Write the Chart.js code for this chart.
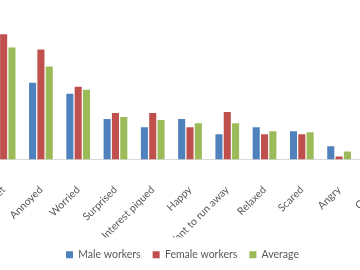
<!DOCTYPE html>
<html>
<head>
<meta charset="utf-8">
<script src="https://cdn.jsdelivr.net/npm/chart.js@4.4.1/dist/chart.umd.min.js"></script>
<style>
    html, body { margin: 0; padding: 0; background: #ffffff; }
    .wrap { position: relative; width: 360px; height: 270px; overflow: hidden; }
    /* il grafico originale e' tagliato a sinistra e a destra */
    .wrap .box { position: absolute; left: -30px; top: 0; width: 425px; height: 270px; }
</style>
</head>
<body>
<div class="wrap">
    <div class="box"><canvas id="chart"></canvas></div>
</div>
<script>
// Dati
const categories = ['Upset', 'Annoyed', 'Worried', 'Surprised', 'Interest piqued', 'Happy',
    'Want to run away', 'Relaxed', 'Scared', 'Angry', 'Other'];
const maleWorkers = [39.2, 30.4, 26.0, 16.0, 12.8, 16.0, 10.0, 12.8, 11.2, 5.2, 2.0];
const femaleWorkers = [49.6, 43.6, 28.8, 18.4, 18.4, 12.8, 18.8, 10.0, 10.0, 1.2, 1.2];
const average = [44.4, 36.8, 27.6, 16.8, 15.6, 14.4, 14.4, 11.2, 10.8, 3.2, 1.6];

const textColor = '#595959';

const ctx = document.getElementById('chart').getContext('2d');
const chart = new Chart(ctx, {
    type: 'bar',
    data: {
        labels: categories,
        datasets: [
            { label: 'Male workers', data: maleWorkers, backgroundColor: '#4f81bd' },
            { label: 'Female workers', data: femaleWorkers, backgroundColor: '#c0504d' },
            { label: 'Average', data: average, backgroundColor: '#9bbb59' }
        ]
    },
    options: {
        responsive: true,
        maintainAspectRatio: false,
        animation: false,
        layout: { padding: { top: 8, left: 0, right: 0, bottom: 0 } },
        datasets: { bar: { categoryPercentage: 0.67, barPercentage: 0.85 } },
        scales: {
            x: {
                grid: { display: false },
                border: { display: true, color: '#d9d9d9', width: 1 },
                ticks: { color: textColor, font: { family: 'Lato', size: 10.5 }, minRotation: 45, maxRotation: 45, autoSkip: false, padding: 16 },
                afterFit: (scale) => {
                    // altezza fissa per l'area etichette, niente margini automatici
                    scale.height = 78;
                    scale.paddingLeft = 0;
                    scale.paddingRight = 0;
                }
            },
            y: {
                min: 0, max: 60,
                grid: { display: false },
                border: { display: false },
                ticks: { display: false },
                afterFit: (scale) => { scale.width = 15; } // asse nascosto, solo spazio a sinistra
            }
        },
        plugins: {
            legend: {
                position: 'bottom',
                labels: { color: textColor, font: { family: 'Lato', size: 10.5 }, boxWidth: 7, boxHeight: 7, padding: 12 }
            },
            tooltip: { enabled: false }
        }
    }
});
</script>
</body>
</html>
